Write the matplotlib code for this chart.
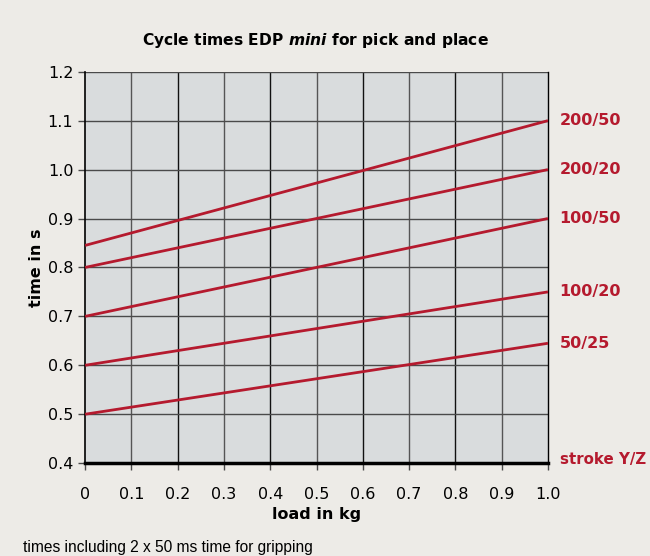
import numpy as np
import matplotlib.pyplot as plt

plt.rcParams['mathtext.fontset'] = 'custom'
plt.rcParams['mathtext.it'] = 'DejaVu Sans:bold:italic'

# load in kg, endpoints of each line
load = [0.0, 1.0]
strokes = ['200/50', '200/20', '100/50', '100/20', '50/25']
times = [
    [0.845, 1.10],
    [0.80, 1.00],
    [0.70, 0.90],
    [0.60, 0.75],
    [0.50, 0.645],
]
xticks = [0, 0.1, 0.2, 0.3, 0.4, 0.5, 0.6, 0.7, 0.8, 0.9, 1.0]
xticklabels = ['0', '0.1', '0.2', '0.3', '0.4', '0.5', '0.6', '0.7', '0.8', '0.9', '1.0']
yticks = [0.4, 0.5, 0.6, 0.7, 0.8, 0.9, 1.0, 1.1, 1.2]

red = '#b51a2e'
bg = '#edebe7'

fig = plt.figure(figsize=(6.5, 5.56), dpi=100, facecolor=bg)
ax = fig.add_axes([0.131, 0.167, 0.712, 0.704])
ax.set_facecolor('#d9dcdd')

for t in times:
    ax.plot(load, t, color=red, lw=2, zorder=3, solid_capstyle='butt')

ax.set_xlim(0, 1.0)
ax.set_ylim(0.4, 1.2)
ax.set_xticks(xticks)
ax.set_xticklabels(xticklabels)
ax.set_yticks(yticks)
ax.set_yticklabels([f'{v:.1f}' for v in yticks])
ax.grid(True, axis='y', color='#4a4a4a', lw=1.0, zorder=1)
# vertical grid: even tenths darker
for i, x in enumerate(xticks[1:-1], start=1):
    ax.axvline(x, color='#111111' if i % 2 == 0 else '#555555', lw=1.0, zorder=1)

ax.spines['top'].set_visible(False)
ax.spines['left'].set_color('black')
ax.spines['left'].set_linewidth(1.2)
ax.spines['right'].set_color('black')
ax.spines['right'].set_linewidth(1.0)
ax.spines['bottom'].set_linewidth(2.5)
ax.spines['bottom'].set_zorder(4)
ax.tick_params(axis='both', labelsize=11.5, length=5, width=1, color='#4a4a4a')
ax.tick_params(axis='x', pad=12)

# labels on the right
for name, t in zip(strokes, times):
    ax.text(1.025, t[1], name, color=red, fontsize=11.5, fontweight='bold',
            va='center', ha='left', clip_on=False)
ax.text(1.025, 0.408, 'stroke Y/Z', color=red, fontsize=10.8, fontweight='bold',
        va='center', ha='left', clip_on=False)

ax.set_xlabel('load in kg', fontsize=11.5, fontweight='bold', labelpad=4)
ax.set_ylabel('time in s', fontsize=11.5, fontweight='bold', labelpad=3)

fig.text(0.486, 0.928, 'Cycle times EDP $mini$ for pick and place',
         ha='center', va='center', fontsize=11.2, fontweight='bold')
fig.text(0.036, 0.016, 'times including 2 x 50 ms time for gripping',
         ha='left', va='center', fontsize=11.2,
         family=['Liberation Sans Narrow', 'Liberation Sans'])

plt.savefig('out.png', dpi=100, facecolor=bg)
